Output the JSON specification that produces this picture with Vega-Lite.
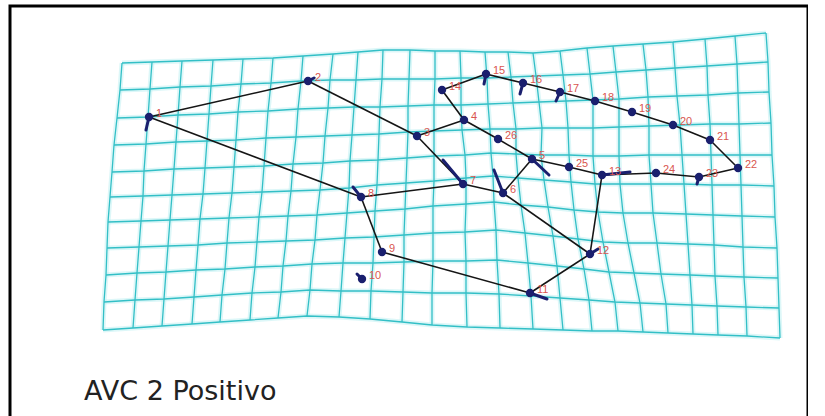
{
  "$schema": "https://vega.github.io/schema/vega-lite/v6.json",
  "width": 798,
  "height": 430,
  "padding": {"left": 10, "top": 6, "right": 0, "bottom": 0},
  "autosize": "none",
  "background": "white",
  "config": {"view": {"stroke": "#000000", "strokeWidth": 3}},
  "datasets": {
    "lm": [
      {"id": 1, "x": 149, "y": 117}, {"id": 2, "x": 308, "y": 81}, {"id": 3, "x": 417, "y": 136},
      {"id": 4, "x": 464, "y": 120}, {"id": 5, "x": 532, "y": 159}, {"id": 6, "x": 503, "y": 193},
      {"id": 7, "x": 463, "y": 184}, {"id": 8, "x": 361, "y": 197}, {"id": 9, "x": 382, "y": 252},
      {"id": 10, "x": 362, "y": 279}, {"id": 11, "x": 530, "y": 293}, {"id": 12, "x": 590, "y": 254},
      {"id": 13, "x": 602, "y": 175}, {"id": 14, "x": 442, "y": 90}, {"id": 15, "x": 486, "y": 74},
      {"id": 16, "x": 523, "y": 83}, {"id": 17, "x": 560, "y": 92}, {"id": 18, "x": 595, "y": 101},
      {"id": 19, "x": 632, "y": 112}, {"id": 20, "x": 673, "y": 125}, {"id": 21, "x": 710, "y": 140},
      {"id": 22, "x": 738, "y": 168}, {"id": 23, "x": 699, "y": 177}, {"id": 24, "x": 656, "y": 173},
      {"id": 25, "x": 569, "y": 167}, {"id": 26, "x": 498, "y": 139}
    ],
    "edges": [
      {"a": 1, "b": 2}, {"a": 2, "b": 3}, {"a": 3, "b": 4}, {"a": 4, "b": 14}, {"a": 14, "b": 15},
      {"a": 15, "b": 16}, {"a": 16, "b": 17}, {"a": 17, "b": 18}, {"a": 18, "b": 19}, {"a": 19, "b": 20},
      {"a": 20, "b": 21}, {"a": 21, "b": 22}, {"a": 22, "b": 23}, {"a": 23, "b": 24}, {"a": 24, "b": 13},
      {"a": 13, "b": 25}, {"a": 25, "b": 5}, {"a": 5, "b": 26}, {"a": 26, "b": 4}, {"a": 5, "b": 6},
      {"a": 3, "b": 7}, {"a": 7, "b": 8}, {"a": 7, "b": 6}, {"a": 6, "b": 12}, {"a": 12, "b": 13},
      {"a": 12, "b": 11}, {"a": 11, "b": 9}, {"a": 9, "b": 8}, {"a": 8, "b": 1}
    ],
    "vec": [
      {"id": 1, "ex": 146, "ey": 130}, {"id": 2, "ex": 314, "ey": 78}, {"id": 5, "ex": 549, "ey": 175},
      {"id": 6, "ex": 494, "ey": 170}, {"id": 7, "ex": 443, "ey": 160}, {"id": 8, "ex": 353, "ey": 187},
      {"id": 10, "ex": 357, "ey": 274}, {"id": 11, "ex": 547, "ey": 299}, {"id": 12, "ex": 598, "ey": 249},
      {"id": 13, "ex": 630, "ey": 172}, {"id": 15, "ex": 484, "ey": 84}, {"id": 16, "ex": 520, "ey": 94},
      {"id": 17, "ex": 556, "ey": 101}, {"id": 23, "ex": 697, "ey": 184}
    ],
    "caption": [{"t": "AVC 2 Positivo", "x": 84, "y": 400}],
    "grid": [
      {"i":0,"j":0,"x":122,"y":63},{"i":0,"j":1,"x":120,"y":90},{"i":0,"j":2,"x":117,"y":118},{"i":0,"j":3,"x":114,"y":145},{"i":0,"j":4,"x":112,"y":172},{"i":0,"j":5,"x":110,"y":197},{"i":0,"j":6,"x":108,"y":222},{"i":0,"j":7,"x":107,"y":248},{"i":0,"j":8,"x":106,"y":275},{"i":0,"j":9,"x":104,"y":302},{"i":0,"j":10,"x":103,"y":330},
      {"i":1,"j":0,"x":152,"y":62},{"i":1,"j":1,"x":150,"y":89},{"i":1,"j":2,"x":148,"y":117},{"i":1,"j":3,"x":146,"y":144},{"i":1,"j":4,"x":144,"y":171},{"i":1,"j":5,"x":143,"y":196},{"i":1,"j":6,"x":141,"y":221},{"i":1,"j":7,"x":139,"y":247},{"i":1,"j":8,"x":137,"y":273},{"i":1,"j":9,"x":135,"y":300},{"i":1,"j":10,"x":133,"y":328},
      {"i":2,"j":0,"x":182,"y":61},{"i":2,"j":1,"x":180,"y":87},{"i":2,"j":2,"x":178,"y":115},{"i":2,"j":3,"x":176,"y":142},{"i":2,"j":4,"x":174,"y":169},{"i":2,"j":5,"x":172,"y":195},{"i":2,"j":6,"x":170,"y":220},{"i":2,"j":7,"x":168,"y":246},{"i":2,"j":8,"x":166,"y":272},{"i":2,"j":9,"x":164,"y":299},{"i":2,"j":10,"x":162,"y":326},
      {"i":3,"j":0,"x":213,"y":60},{"i":3,"j":1,"x":211,"y":86},{"i":3,"j":2,"x":209,"y":114},{"i":3,"j":3,"x":207,"y":141},{"i":3,"j":4,"x":205,"y":168},{"i":3,"j":5,"x":203,"y":194},{"i":3,"j":6,"x":200,"y":219},{"i":3,"j":7,"x":198,"y":245},{"i":3,"j":8,"x":196,"y":270},{"i":3,"j":9,"x":194,"y":297},{"i":3,"j":10,"x":192,"y":324},
      {"i":4,"j":0,"x":243,"y":59},{"i":4,"j":1,"x":241,"y":84},{"i":4,"j":2,"x":238,"y":112},{"i":4,"j":3,"x":236,"y":140},{"i":4,"j":4,"x":234,"y":167},{"i":4,"j":5,"x":232,"y":193},{"i":4,"j":6,"x":229,"y":218},{"i":4,"j":7,"x":227,"y":243},{"i":4,"j":8,"x":225,"y":269},{"i":4,"j":9,"x":222,"y":295},{"i":4,"j":10,"x":220,"y":322},
      {"i":5,"j":0,"x":273,"y":58},{"i":5,"j":1,"x":271,"y":83},{"i":5,"j":2,"x":268,"y":111},{"i":5,"j":3,"x":266,"y":138},{"i":5,"j":4,"x":264,"y":166},{"i":5,"j":5,"x":262,"y":192},{"i":5,"j":6,"x":259,"y":217},{"i":5,"j":7,"x":257,"y":242},{"i":5,"j":8,"x":255,"y":267},{"i":5,"j":9,"x":252,"y":293},{"i":5,"j":10,"x":250,"y":320},
      {"i":6,"j":0,"x":303,"y":56},{"i":6,"j":1,"x":301,"y":81},{"i":6,"j":2,"x":298,"y":109},{"i":6,"j":3,"x":296,"y":137},{"i":6,"j":4,"x":293,"y":164},{"i":6,"j":5,"x":291,"y":191},{"i":6,"j":6,"x":288,"y":216},{"i":6,"j":7,"x":286,"y":241},{"i":6,"j":8,"x":283,"y":266},{"i":6,"j":9,"x":281,"y":292},{"i":6,"j":10,"x":278,"y":318},
      {"i":7,"j":0,"x":333,"y":54},{"i":7,"j":1,"x":330,"y":80},{"i":7,"j":2,"x":328,"y":108},{"i":7,"j":3,"x":325,"y":136},{"i":7,"j":4,"x":323,"y":163},{"i":7,"j":5,"x":320,"y":190},{"i":7,"j":6,"x":317,"y":215},{"i":7,"j":7,"x":315,"y":240},{"i":7,"j":8,"x":312,"y":264},{"i":7,"j":9,"x":310,"y":290},{"i":7,"j":10,"x":307,"y":316},
      {"i":8,"j":0,"x":358,"y":52},{"i":8,"j":1,"x":356,"y":80},{"i":8,"j":2,"x":354,"y":107},{"i":8,"j":3,"x":352,"y":135},{"i":8,"j":4,"x":350,"y":161},{"i":8,"j":5,"x":349,"y":188},{"i":8,"j":6,"x":347,"y":213},{"i":8,"j":7,"x":345,"y":238},{"i":8,"j":8,"x":343,"y":263},{"i":8,"j":9,"x":341,"y":291},{"i":8,"j":10,"x":339,"y":317},
      {"i":9,"j":0,"x":383,"y":50},{"i":9,"j":1,"x":382,"y":79},{"i":9,"j":2,"x":380,"y":107},{"i":9,"j":3,"x":379,"y":134},{"i":9,"j":4,"x":378,"y":160},{"i":9,"j":5,"x":377,"y":185},{"i":9,"j":6,"x":375,"y":211},{"i":9,"j":7,"x":374,"y":237},{"i":9,"j":8,"x":373,"y":263},{"i":9,"j":9,"x":371,"y":291},{"i":9,"j":10,"x":370,"y":319},
      {"i":10,"j":0,"x":410,"y":50},{"i":10,"j":1,"x":409,"y":79},{"i":10,"j":2,"x":408,"y":106},{"i":10,"j":3,"x":408,"y":132},{"i":10,"j":4,"x":407,"y":158},{"i":10,"j":5,"x":406,"y":183},{"i":10,"j":6,"x":405,"y":209},{"i":10,"j":7,"x":404,"y":235},{"i":10,"j":8,"x":404,"y":262},{"i":10,"j":9,"x":403,"y":292},{"i":10,"j":10,"x":402,"y":322},
      {"i":11,"j":0,"x":435,"y":51},{"i":11,"j":1,"x":435,"y":79},{"i":11,"j":2,"x":434,"y":105},{"i":11,"j":3,"x":434,"y":131},{"i":11,"j":4,"x":434,"y":156},{"i":11,"j":5,"x":434,"y":181},{"i":11,"j":6,"x":433,"y":206},{"i":11,"j":7,"x":433,"y":233},{"i":11,"j":8,"x":433,"y":261},{"i":11,"j":9,"x":432,"y":293},{"i":11,"j":10,"x":432,"y":325},
      {"i":12,"j":0,"x":460,"y":51},{"i":12,"j":1,"x":461,"y":78},{"i":12,"j":2,"x":461,"y":105},{"i":12,"j":3,"x":462,"y":130},{"i":12,"j":4,"x":465,"y":155},{"i":12,"j":5,"x":466,"y":178},{"i":12,"j":6,"x":466,"y":204},{"i":12,"j":7,"x":465,"y":232},{"i":12,"j":8,"x":466,"y":261},{"i":12,"j":9,"x":466,"y":293},{"i":12,"j":10,"x":467,"y":327},
      {"i":13,"j":0,"x":485,"y":52},{"i":13,"j":1,"x":487,"y":78},{"i":13,"j":2,"x":488,"y":104},{"i":13,"j":3,"x":490,"y":129},{"i":13,"j":4,"x":491,"y":153},{"i":13,"j":5,"x":493,"y":176},{"i":13,"j":6,"x":494,"y":202},{"i":13,"j":7,"x":496,"y":230},{"i":13,"j":8,"x":497,"y":260},{"i":13,"j":9,"x":499,"y":294},{"i":13,"j":10,"x":500,"y":328},
      {"i":14,"j":0,"x":508,"y":52},{"i":14,"j":1,"x":511,"y":77},{"i":14,"j":2,"x":513,"y":103},{"i":14,"j":3,"x":516,"y":129},{"i":14,"j":4,"x":516,"y":154},{"i":14,"j":5,"x":518,"y":178},{"i":14,"j":6,"x":521,"y":205},{"i":14,"j":7,"x":525,"y":233},{"i":14,"j":8,"x":528,"y":263},{"i":14,"j":9,"x":531,"y":296},{"i":14,"j":10,"x":533,"y":329},
      {"i":15,"j":0,"x":533,"y":53},{"i":15,"j":1,"x":536,"y":76},{"i":15,"j":2,"x":539,"y":102},{"i":15,"j":3,"x":542,"y":128},{"i":15,"j":4,"x":541,"y":155},{"i":15,"j":5,"x":544,"y":180},{"i":15,"j":6,"x":548,"y":207},{"i":15,"j":7,"x":553,"y":236},{"i":15,"j":8,"x":557,"y":266},{"i":15,"j":9,"x":560,"y":298},{"i":15,"j":10,"x":563,"y":330},
      {"i":16,"j":0,"x":560,"y":51},{"i":16,"j":1,"x":563,"y":75},{"i":16,"j":2,"x":566,"y":101},{"i":16,"j":3,"x":568,"y":128},{"i":16,"j":4,"x":569,"y":155},{"i":16,"j":5,"x":571,"y":182},{"i":16,"j":6,"x":574,"y":210},{"i":16,"j":7,"x":578,"y":239},{"i":16,"j":8,"x":584,"y":269},{"i":16,"j":9,"x":589,"y":300},{"i":16,"j":10,"x":592,"y":331},
      {"i":17,"j":0,"x":587,"y":48},{"i":17,"j":1,"x":590,"y":74},{"i":17,"j":2,"x":593,"y":100},{"i":17,"j":3,"x":593,"y":128},{"i":17,"j":4,"x":593,"y":156},{"i":17,"j":5,"x":595,"y":184},{"i":17,"j":6,"x":598,"y":212},{"i":17,"j":7,"x":603,"y":242},{"i":17,"j":8,"x":609,"y":272},{"i":17,"j":9,"x":615,"y":302},{"i":17,"j":10,"x":618,"y":331},
      {"i":18,"j":0,"x":613,"y":46},{"i":18,"j":1,"x":616,"y":72},{"i":18,"j":2,"x":619,"y":99},{"i":18,"j":3,"x":619,"y":127},{"i":18,"j":4,"x":619,"y":156},{"i":18,"j":5,"x":620,"y":184},{"i":18,"j":6,"x":623,"y":213},{"i":18,"j":7,"x":628,"y":243},{"i":18,"j":8,"x":634,"y":273},{"i":18,"j":9,"x":640,"y":303},{"i":18,"j":10,"x":643,"y":332},
      {"i":19,"j":0,"x":643,"y":44},{"i":19,"j":1,"x":646,"y":70},{"i":19,"j":2,"x":648,"y":97},{"i":19,"j":3,"x":649,"y":126},{"i":19,"j":4,"x":649,"y":155},{"i":19,"j":5,"x":651,"y":184},{"i":19,"j":6,"x":653,"y":213},{"i":19,"j":7,"x":657,"y":243},{"i":19,"j":8,"x":661,"y":274},{"i":19,"j":9,"x":666,"y":304},{"i":19,"j":10,"x":668,"y":333},
      {"i":20,"j":0,"x":673,"y":42},{"i":20,"j":1,"x":675,"y":68},{"i":20,"j":2,"x":677,"y":96},{"i":20,"j":3,"x":680,"y":125},{"i":20,"j":4,"x":682,"y":155},{"i":20,"j":5,"x":684,"y":184},{"i":20,"j":6,"x":686,"y":214},{"i":20,"j":7,"x":688,"y":244},{"i":20,"j":8,"x":690,"y":275},{"i":20,"j":9,"x":692,"y":305},{"i":20,"j":10,"x":693,"y":334},
      {"i":21,"j":0,"x":705,"y":39},{"i":21,"j":1,"x":707,"y":66},{"i":21,"j":2,"x":708,"y":95},{"i":21,"j":3,"x":710,"y":124},{"i":21,"j":4,"x":711,"y":155},{"i":21,"j":5,"x":712,"y":185},{"i":21,"j":6,"x":713,"y":215},{"i":21,"j":7,"x":714,"y":245},{"i":21,"j":8,"x":715,"y":276},{"i":21,"j":9,"x":717,"y":306},{"i":21,"j":10,"x":718,"y":335},
      {"i":22,"j":0,"x":735,"y":36},{"i":22,"j":1,"x":737,"y":64},{"i":22,"j":2,"x":738,"y":93},{"i":22,"j":3,"x":739,"y":124},{"i":22,"j":4,"x":740,"y":155},{"i":22,"j":5,"x":741,"y":185},{"i":22,"j":6,"x":742,"y":216},{"i":22,"j":7,"x":743,"y":247},{"i":22,"j":8,"x":744,"y":277},{"i":22,"j":9,"x":746,"y":307},{"i":22,"j":10,"x":747,"y":336},
      {"i":23,"j":0,"x":766,"y":33},{"i":23,"j":1,"x":768,"y":62},{"i":23,"j":2,"x":769,"y":92},{"i":23,"j":3,"x":771,"y":123},{"i":23,"j":4,"x":772,"y":155},{"i":23,"j":5,"x":774,"y":186},{"i":23,"j":6,"x":775,"y":217},{"i":23,"j":7,"x":777,"y":248},{"i":23,"j":8,"x":778,"y":278},{"i":23,"j":9,"x":779,"y":308},{"i":23,"j":10,"x":780,"y":338}
    ]
  },
  "layer": [
    {
      "data": {"name": "grid"},
      "mark": {"type": "line", "stroke": "#b4eef0", "strokeWidth": 5, "opacity": 0.45},
      "encoding": {
        "x": {"field": "x", "type": "quantitative", "scale": {"domain": [10, 808], "nice": false, "zero": false}, "axis": null},
        "y": {"field": "y", "type": "quantitative", "scale": {"domain": [6, 436], "reverse": true, "nice": false, "zero": false}, "axis": null},
        "detail": {"field": "j", "type": "nominal"},
        "order": {"field": "i", "type": "quantitative"}
      }
    },
    {
      "data": {"name": "grid"},
      "mark": {"type": "line", "stroke": "#b4eef0", "strokeWidth": 5, "opacity": 0.45},
      "encoding": {
        "x": {"field": "x", "type": "quantitative", "scale": {"domain": [10, 808], "nice": false, "zero": false}, "axis": null},
        "y": {"field": "y", "type": "quantitative", "scale": {"domain": [6, 436], "reverse": true, "nice": false, "zero": false}, "axis": null},
        "detail": {"field": "i", "type": "nominal"},
        "order": {"field": "j", "type": "quantitative"}
      }
    },
    {
      "data": {"name": "grid"},
      "mark": {"type": "line", "stroke": "#33bfc6", "strokeWidth": 1.3},
      "encoding": {
        "x": {"field": "x", "type": "quantitative", "scale": {"domain": [10, 808], "nice": false, "zero": false}, "axis": null},
        "y": {"field": "y", "type": "quantitative", "scale": {"domain": [6, 436], "reverse": true, "nice": false, "zero": false}, "axis": null},
        "detail": {"field": "j", "type": "nominal"},
        "order": {"field": "i", "type": "quantitative"}
      }
    },
    {
      "data": {"name": "grid"},
      "mark": {"type": "line", "stroke": "#33bfc6", "strokeWidth": 1.3},
      "encoding": {
        "x": {"field": "x", "type": "quantitative", "scale": {"domain": [10, 808], "nice": false, "zero": false}, "axis": null},
        "y": {"field": "y", "type": "quantitative", "scale": {"domain": [6, 436], "reverse": true, "nice": false, "zero": false}, "axis": null},
        "detail": {"field": "i", "type": "nominal"},
        "order": {"field": "j", "type": "quantitative"}
      }
    },
    {
      "data": {"name": "edges"},
      "transform": [
        {"lookup": "a", "from": {"data": {"name": "lm"}, "key": "id", "fields": ["x", "y"]}, "as": ["xa", "ya"]},
        {"lookup": "b", "from": {"data": {"name": "lm"}, "key": "id", "fields": ["x", "y"]}, "as": ["xb", "yb"]}
      ],
      "mark": {"type": "rule", "stroke": "#151515", "strokeWidth": 1.6},
      "encoding": {
        "x": {"field": "xa", "type": "quantitative", "scale": {"domain": [10, 808], "nice": false, "zero": false}, "axis": null},
        "y": {"field": "ya", "type": "quantitative", "scale": {"domain": [6, 436], "reverse": true, "nice": false, "zero": false}, "axis": null},
        "x2": {"field": "xb"},
        "y2": {"field": "yb"}
      }
    },
    {
      "data": {"name": "vec"},
      "transform": [
        {"lookup": "id", "from": {"data": {"name": "lm"}, "key": "id", "fields": ["x", "y"]}}
      ],
      "mark": {"type": "rule", "stroke": "#1a1f6e", "strokeWidth": 3, "strokeCap": "round"},
      "encoding": {
        "x": {"field": "x", "type": "quantitative", "scale": {"domain": [10, 808], "nice": false, "zero": false}, "axis": null},
        "y": {"field": "y", "type": "quantitative", "scale": {"domain": [6, 436], "reverse": true, "nice": false, "zero": false}, "axis": null},
        "x2": {"field": "ex"},
        "y2": {"field": "ey"}
      }
    },
    {
      "data": {"name": "lm"},
      "mark": {"type": "point", "filled": true, "shape": "circle", "size": 70, "color": "#1a1f6e", "opacity": 1},
      "encoding": {
        "x": {"field": "x", "type": "quantitative", "scale": {"domain": [10, 808], "nice": false, "zero": false}, "axis": null},
        "y": {"field": "y", "type": "quantitative", "scale": {"domain": [6, 436], "reverse": true, "nice": false, "zero": false}, "axis": null}
      }
    },
    {
      "data": {"name": "lm"},
      "mark": {"type": "text", "align": "left", "baseline": "middle", "dx": 7, "dy": -3, "fontSize": 11, "font": "Liberation Sans", "color": "#d9564f"},
      "encoding": {
        "x": {"field": "x", "type": "quantitative", "scale": {"domain": [10, 808], "nice": false, "zero": false}, "axis": null},
        "y": {"field": "y", "type": "quantitative", "scale": {"domain": [6, 436], "reverse": true, "nice": false, "zero": false}, "axis": null},
        "text": {"field": "id", "type": "nominal"}
      }
    },
    {
      "data": {"name": "caption"},
      "mark": {"type": "text", "align": "left", "baseline": "alphabetic", "fontSize": 27, "font": "DejaVu Sans", "color": "#222222"},
      "encoding": {
        "x": {"field": "x", "type": "quantitative", "scale": {"domain": [10, 808], "nice": false, "zero": false}, "axis": null},
        "y": {"field": "y", "type": "quantitative", "scale": {"domain": [6, 436], "reverse": true, "nice": false, "zero": false}, "axis": null},
        "text": {"field": "t", "type": "nominal"}
      }
    }
  ]
}
